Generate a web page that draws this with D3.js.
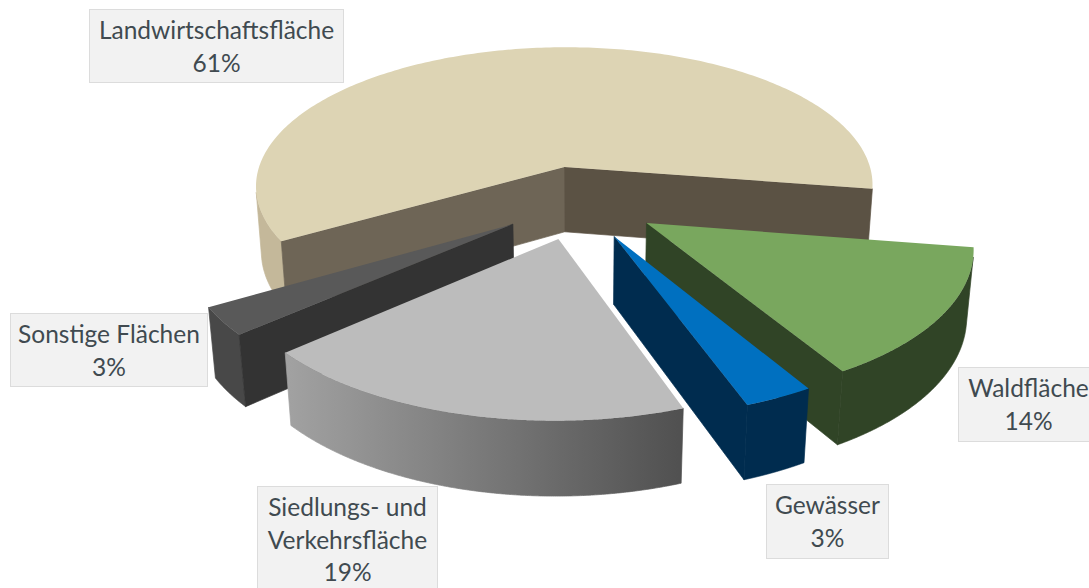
<!DOCTYPE html>
<html lang="de">
<head>
<meta charset="utf-8">
<title>Flächennutzung</title>
<script src="https://cdn.jsdelivr.net/npm/d3@7"></script>
<style>
  html, body { margin: 0; padding: 0; background: #fff; overflow: hidden; }
  svg { display: block; }
  text { font-family: Lato, "Open Sans", sans-serif; font-size: 24.5px; fill: #404a50; text-anchor: middle; }
</style>
</head>
<body>
<svg id="chart" width="1089" height="588"></svg>
<script>
const categories = ["Landwirtschaftsfläche", "Waldfläche", "Gewässer", "Siedlungs- und Verkehrsfläche", "Sonstige Flächen"];
const shares = [61, 14, 3, 19, 3];

const topColors = ["#ddd4b4", "#79a75e", "#0070c0", "#bcbcbc", "#595959"];
const rimColors = ["#c4b89a", "#304426", "#002c4f", "url(#rimSiedlung)", "#484848"];
const startWallColors = ["#6e6556", "#304426", "#002c4f", "#555555", "#333333"];
const endWallColors = ["#5b5244", "#304426", "#002c4f", "#555555", "#333333"];
const paintOrder = [0, 1, 2, 4, 3];

const labelLines = [["Landwirtschaftsfläche", "61%"], ["Waldfläche", "14%"], ["Gewässer", "3%"], ["Siedlungs- und", "Verkehrsfläche", "19%"], ["Sonstige Flächen", "3%"]];
const labelBoxes = [[89, 9, 254, 73], [958, 367, 140, 74], [766, 484, 122, 74], [257, 486, 180, 110], [10, 313, 197, 73]];

const camera = { cx: 579, cy: 202, tilt: Math.asin(0.46), distance: 2027 };
const eye = [0, camera.distance * Math.cos(camera.tilt), camera.distance * Math.sin(camera.tilt)];
const radius = 316, thickness = 76, explosion = 80;
const firstAngle = -120.6 * Math.PI / 180;

// Perspective projection of a point on the pie: x right, y toward the viewer, z up.
function project(x, y, z) {
  const w = 1 - (y * Math.cos(camera.tilt) + z * Math.sin(camera.tilt)) / camera.distance;
  return [camera.cx + x / w, camera.cy + (y * Math.sin(camera.tilt) - z * Math.cos(camera.tilt)) / w];
}

// A vertical face is visible when its outward normal points at the eye.
const facesEye = (nx, ny, px, py) => nx * (eye[0] - px) + ny * (eye[1] - py) > 0;

const arcs = d3.pie().sort(null).startAngle(firstAngle).endAngle(firstAngle + 2 * Math.PI)(shares);
const svg = d3.select("#chart");
const line = d3.line();

const gradient = svg.append("defs").append("linearGradient").attr("id", "rimSiedlung");
gradient.append("stop").attr("offset", 0).attr("stop-color", "#a2a2a2");
gradient.append("stop").attr("offset", 1).attr("stop-color", "#505050");

// Back slices first; each one is its outer wall, its radial walls and its top face.
paintOrder.forEach(i => {
  const a = arcs[i];
  const mid = (a.startAngle + a.endAngle) / 2;
  const ax = Math.sin(mid) * explosion, ay = -Math.cos(mid) * explosion;
  const rimAngles = d3.range(0, 241).map(t => a.startAngle + (a.endAngle - a.startAngle) * t / 240);
  const rimPoint = (t, z) => project(ax + radius * Math.sin(t), ay - radius * Math.cos(t), z);
  const apex = z => project(ax, ay, z);
  const g = svg.append("g").attr("class", "slice").attr("data-name", categories[i]);
  const face = (pts, fill) => g.append("path").attr("d", line(pts) + "Z").attr("fill", fill);
  // Walls get a hairline of their own colour so neighbouring faces leave no seam.
  const wall = (pts, fill) => face(pts, fill).attr("stroke", fill).attr("stroke-width", 0.7);

  // Outer wall: one polygon per unbroken run of eye-facing rim angles.
  let run = [];
  const flush = () => {
    if (run.length > 1) {
      wall(run.map(t => rimPoint(t, 0)).concat(run.slice().reverse().map(t => rimPoint(t, -thickness))), rimColors[i]);
    }
    run = [];
  };
  rimAngles.forEach(t => {
    const nx = Math.sin(t), ny = -Math.cos(t);
    if (facesEye(nx, ny, ax + radius * nx, ay + radius * ny)) run.push(t);
    else flush();
  });
  flush();

  // Radial walls, culled the same way.
  const s = a.startAngle, e = a.endAngle;
  if (facesEye(-Math.cos(s), -Math.sin(s), ax, ay)) {
    wall([apex(0), rimPoint(s, 0), rimPoint(s, -thickness), apex(-thickness)], startWallColors[i]);
  }
  if (facesEye(Math.cos(e), Math.sin(e), ax, ay)) {
    wall([apex(0), rimPoint(e, 0), rimPoint(e, -thickness), apex(-thickness)], endWallColors[i]);
  }

  face([apex(0)].concat(rimAngles.map(t => rimPoint(t, 0))), topColors[i]);
});

labelLines.forEach((lines, i) => {
  const [x, y, w, h] = labelBoxes[i];
  const g = svg.append("g").attr("class", "label");
  g.append("rect").attr("x", x + 0.5).attr("y", y + 0.5).attr("width", w).attr("height", h).attr("fill", "#f2f2f2").attr("stroke", "#dcdcdc");
  lines.forEach((t, j) => g.append("text").attr("x", x + w / 2 + 0.5).attr("y", y + 30 + j * 32.5).text(t));
});
</script>
</body>
</html>
